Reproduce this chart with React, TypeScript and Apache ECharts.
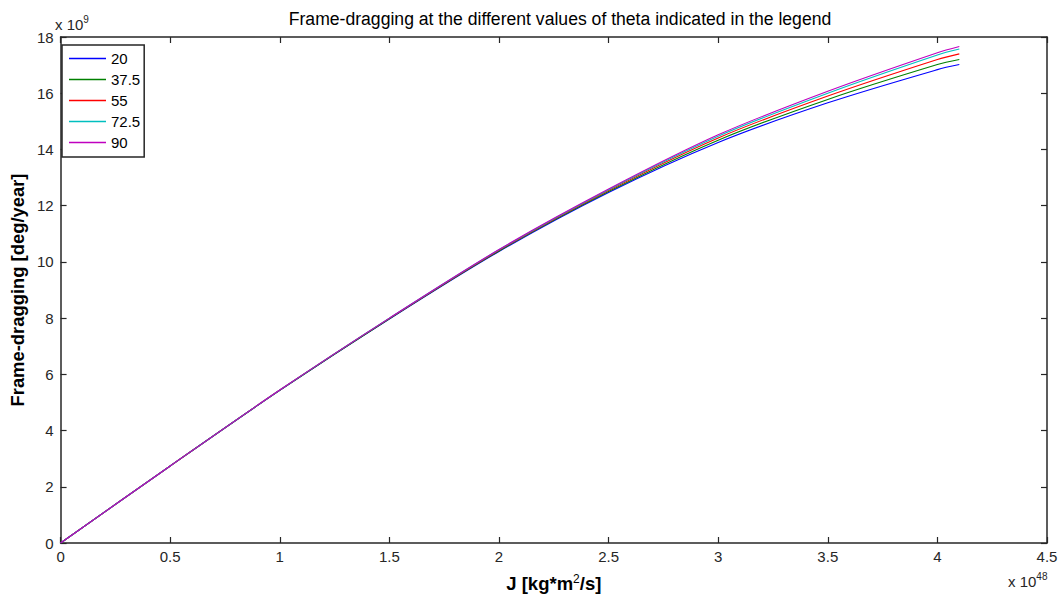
import React, { useEffect, useRef } from "react";
import * as echarts from "echarts";

// x: J in units of 1e48 kg*m^2/s ; y: frame-dragging in units of 1e9 deg/year
const jValues = [0, 0.5, 1, 1.5, 2, 2.5, 3, 3.5, 4, 4.1];
const thetaLabels = ["20", "37.5", "55", "72.5", "90"];
const fd20 = [0, 2.74, 5.43, 7.97, 10.37, 12.47, 14.25, 15.66, 16.84, 17.02];
const fd37 = [0, 2.74, 5.43, 7.98, 10.39, 12.5, 14.33, 15.78, 17.02, 17.2];
const fd55 = [0, 2.74, 5.44, 7.99, 10.41, 12.54, 14.41, 15.9, 17.2, 17.4];
const fd72 = [0, 2.74, 5.44, 8.0, 10.43, 12.57, 14.47, 16.0, 17.36, 17.57];
const fd90 = [0, 2.74, 5.44, 8.0, 10.44, 12.59, 14.52, 16.07, 17.44, 17.66];
const seriesValues = [fd20, fd37, fd55, fd72, fd90];
const seriesColors = ["#0000ff", "#008000", "#ff0000", "#00bfbf", "#bf00bf"];

const FONT = "'Liberation Sans', Arial, sans-serif";
const AX = "#262626";

export default function App() {
  const ref = useRef<HTMLDivElement>(null);
  useEffect(() => {
    if (!ref.current) return;
    const chart = echarts.init(ref.current, undefined, { renderer: "svg" });
    const axisCommon = {
      axisLine: { show: true, onZero: false, lineStyle: { color: AX, width: 1.5 } },
      axisTick: { show: true, inside: true, length: 6, lineStyle: { color: AX, width: 1.2 } },
      splitLine: { show: false },
    };
    chart.setOption({
      animation: false,
      backgroundColor: "#ffffff",
      textStyle: { fontFamily: FONT },
      title: {
        text: "Frame-dragging at the different values of theta indicated in the legend",
        left: 555,
        textAlign: "center",
        top: 5,
        textStyle: { fontSize: 17.6, fontWeight: "normal", color: "#000", fontFamily: FONT },
      },
      legend: {
        orient: "vertical",
        left: 62,
        top: 45,
        padding: [6, 4, 7, 7],
        icon: "rect",
        itemWidth: 37,
        itemHeight: 1.5,
        itemGap: 6,
        borderColor: AX,
        borderWidth: 1.5,
        backgroundColor: "#fff",
        textStyle: { fontSize: 15, lineHeight: 15, color: "#000", fontFamily: FONT },
        data: thetaLabels,
      },
      grid: { left: 56, right: 17, top: 37, bottom: 55, containLabel: false },
      xAxis: [
        {
          type: "value",
          min: 0,
          max: 4.5,
          interval: 0.5,
          position: "bottom",
          ...axisCommon,
          axisLabel: { fontSize: 15, color: AX, margin: 6, fontFamily: FONT },
          name: "{a|J [kg*m}{s|2}{a|/s]}",
          nameLocation: "middle",
          nameGap: 30,
          nameTextStyle: {
            rich: {
              a: { fontSize: 18.5, color: "#000", fontFamily: FONT, fontWeight: "bold" },
              s: { fontSize: 12, color: "#000", fontFamily: FONT, padding: [0, 0, 9, 0] },
            },
          },
        },
        {
          type: "value",
          min: 0,
          max: 4.5,
          interval: 0.5,
          position: "top",
          ...axisCommon,
          axisLabel: { show: false },
        },
      ],
      yAxis: [
        {
          type: "value",
          min: 0,
          max: 18,
          interval: 2,
          position: "left",
          ...axisCommon,
          axisLabel: { fontSize: 15, color: AX, margin: 7, fontFamily: FONT },
          name: "Frame-dragging [deg/year]",
          nameLocation: "middle",
          nameGap: 33,
          nameTextStyle: { fontSize: 18.4, fontWeight: "bold", color: "#000", fontFamily: FONT },
        },
        {
          type: "value",
          min: 0,
          max: 18,
          interval: 2,
          position: "right",
          ...axisCommon,
          axisLabel: { show: false },
        },
      ],
      graphic: [
        {
          type: "text",
          left: 55,
          top: 14,
          style: {
            text: "{a|x 10}{s|9}",
            rich: {
              a: { fontSize: 15, fill: AX, fontFamily: FONT },
              s: { fontSize: 10, fill: AX, fontFamily: FONT, padding: [0, 0, 10, 0] },
            },
          },
        },
        {
          type: "text",
          left: 1008,
          top: 571,
          style: {
            text: "{a|x 10}{s|48}",
            rich: {
              a: { fontSize: 15, fill: AX, fontFamily: FONT },
              s: { fontSize: 10, fill: AX, fontFamily: FONT, padding: [0, 0, 10, 0] },
            },
          },
        },
      ],
      series: seriesValues.map((vals, si) => ({
        name: thetaLabels[si],
        type: "line",
        xAxisIndex: 0,
        yAxisIndex: 0,
        symbol: "none",
        smooth: 0.3,
        color: seriesColors[si],
        lineStyle: { width: 1.1, color: seriesColors[si] },
        data: jValues.map((x, i) => [x, vals[i]]),
      })),
    });
    return () => chart.dispose();
  }, []);
  return (
    <div
      ref={ref}
      style={{ position: "fixed", left: 0, top: 0, width: 1064, height: 598, background: "#fff" }}
    />
  );
}
